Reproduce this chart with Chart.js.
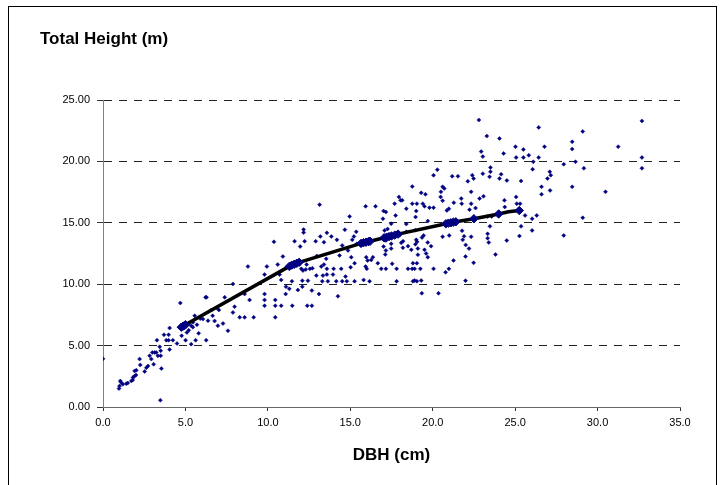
<!DOCTYPE html>
<html>
<head>
<meta charset="utf-8">
<script src="https://cdn.jsdelivr.net/npm/chart.js@4"></script>
<style>
    body { margin: 0; background: #fff; }
    #wrap { width: 723px; height: 485px; }
</style>
</head>
<body>
<div id="wrap"><canvas id="heightChart" width="723" height="485"></canvas></div>
<script>
// Cây đo được: [DBH (cm), chiều cao (m)]
const treesUnder5 = [
    [0.0, 3.92], [0.97, 1.5], [1.05, 2.12], [1.2, 1.85], [1.0, 1.7], [1.1, 2.0], [1.41, 1.9], [1.5, 1.95],
    [1.72, 2.12], [1.82, 2.4], [1.92, 2.94], [2.02, 3.0], [1.8, 2.2], [1.9, 2.5], [2.0, 2.6], [2.22, 3.9],
    [2.26, 3.43], [2.53, 2.89], [2.63, 3.2], [2.73, 3.34], [2.83, 4.17], [2.93, 3.9], [2.99, 4.44], [3.07, 3.48],
    [3.13, 4.44], [3.23, 4.44], [3.27, 5.44], [3.33, 4.17], [3.44, 4.9], [3.5, 4.17], [3.5, 4.58], [3.54, 3.13],
    [3.48, 0.55], [3.7, 5.88], [3.84, 5.44], [3.98, 5.44], [4.04, 6.43], [4.04, 4.68], [3.98, 5.88], [4.24, 5.44],
    [4.49, 5.17], [4.69, 8.47], [4.67, 6.43], [4.77, 5.8]
];
const trees5to10 = [
    [5.01, 5.44], [5.09, 6.07], [5.2, 6.25], [5.35, 6.62], [5.35, 5.12], [5.46, 6.9], [5.62, 5.44], [5.7, 6.7],
    [5.56, 7.43], [6.06, 7.16], [6.22, 8.93], [6.28, 8.93], [6.26, 5.44], [6.37, 7.03], [6.57, 7.9], [6.65, 7.43],
    [6.77, 7.0], [6.91, 8.06], [6.97, 6.62], [7.03, 7.9], [7.28, 6.8], [7.38, 8.93], [7.58, 6.21], [7.88, 10.02],
    [7.88, 7.7], [7.98, 8.17], [8.29, 7.3], [8.59, 7.3], [8.59, 9.2], [8.79, 11.44], [8.89, 8.72], [9.14, 7.3],
    [9.8, 10.78], [9.8, 9.2], [9.8, 8.72], [9.8, 8.25], [9.94, 11.44], [5.45, 6.5], [5.8, 6.0], [5.9, 7.2]
];
const trees10to15 = [
    [10.45, 8.72], [10.45, 8.25], [10.45, 7.3], [10.6, 11.6], [10.37, 13.45], [10.81, 8.25], [10.91, 12.26],
    [10.71, 10.78], [10.81, 10.35], [11.1, 9.8], [11.08, 9.2], [11.3, 9.62], [11.48, 8.25], [11.46, 10.24],
    [11.62, 13.5], [11.82, 9.53], [11.96, 13.07], [12.03, 11.25], [12.09, 10.29], [12.17, 14.45], [12.17, 14.2],
    [12.23, 13.5], [12.13, 11.11], [12.3, 11.2], [12.35, 11.6], [12.09, 9.8], [12.39, 8.25], [12.67, 8.25],
    [12.43, 10.29], [12.67, 9.48], [12.55, 11.25], [12.7, 11.3], [12.9, 13.5], [12.97, 12.3], [12.94, 10.7],
    [13.1, 9.2], [13.14, 16.48], [13.18, 13.89], [13.24, 11.44], [13.3, 10.24], [13.34, 10.7], [13.4, 11.6],
    [13.54, 12.07], [13.58, 14.18], [13.4, 13.42], [13.58, 10.78], [13.64, 10.24], [13.58, 11.25], [13.85, 13.89],
    [13.99, 11.25], [13.95, 10.78], [14.19, 13.61], [14.25, 9.02], [14.15, 10.24], [14.35, 12.34], [14.45, 11.25],
    [14.51, 10.24], [14.51, 13.15], [14.67, 14.44], [14.71, 10.62], [14.79, 10.24], [14.86, 12.75], [14.96, 15.52]
];
const trees15to20 = [
    [15.02, 11.38], [15.06, 12.2], [15.12, 13.61], [15.22, 13.89], [15.26, 10.24], [15.26, 11.71], [15.36, 14.27],
    [15.4, 13.29], [15.81, 10.35], [15.93, 16.34], [15.97, 12.2], [15.93, 11.44], [16.0, 11.25], [16.05, 11.93],
    [16.17, 10.24], [16.27, 11.98], [16.37, 12.2], [16.53, 16.34], [16.67, 11.71], [16.88, 11.25], [16.98, 15.33],
    [17.02, 15.96], [17.16, 15.88], [17.02, 13.07], [17.08, 14.38], [17.16, 13.56], [17.16, 12.75], [17.12, 12.42],
    [17.16, 11.25], [17.26, 14.5], [17.26, 13.9], [17.48, 14.93], [17.48, 13.29], [17.48, 12.9], [17.54, 11.66],
    [17.69, 16.56], [17.75, 15.6], [17.95, 17.11], [18.05, 16.83], [18.15, 16.83], [17.81, 11.25], [17.81, 10.24],
    [18.09, 13.37], [18.19, 12.97], [18.4, 14.27], [18.4, 16.15], [18.5, 11.25], [18.7, 12.8], [18.76, 17.95],
    [18.76, 16.56], [18.8, 10.24], [18.8, 11.71], [18.9, 11.25], [18.96, 15.47], [19.0, 15.96], [19.04, 10.24],
    [19.04, 11.71], [19.04, 16.56], [19.0, 13.61], [19.1, 12.9], [18.4, 14.9], [18.0, 14.0], [18.2, 13.5],
    [18.5, 13.1], [18.95, 14.4], [19.05, 13.45], [19.35, 13.8], [18.95, 13.25], [19.1, 12.4], [18.75, 11.25],
    [19.25, 11.25], [18.9, 10.3], [19.3, 10.3], [19.3, 17.44], [19.56, 17.32], [19.4, 16.56], [19.5, 16.34],
    [19.7, 15.14], [19.7, 12.2], [19.8, 16.23], [19.34, 9.26], [19.45, 13.97], [19.7, 13.4], [19.9, 13.1],
    [19.5, 12.8], [19.6, 12.5]
];
const trees20to25 = [
    [20.05, 16.23], [20.05, 18.87], [20.28, 19.33], [20.05, 11.25], [20.35, 9.26], [20.48, 17.11], [20.5, 17.52],
    [20.6, 17.93], [20.7, 17.8], [20.6, 16.8], [20.6, 13.87], [20.78, 10.97], [20.98, 11.25], [21.0, 13.97],
    [20.86, 16.01], [20.98, 16.15], [21.18, 18.79], [21.53, 18.79], [21.28, 16.64], [21.26, 11.93], [21.73, 16.97],
    [21.76, 16.56], [21.78, 14.36], [21.82, 13.61], [21.99, 12.26], [21.99, 10.29], [22.13, 18.38], [22.23, 16.07],
    [22.33, 16.56], [22.33, 17.52], [22.48, 18.6], [22.48, 11.74], [22.33, 13.87], [22.4, 18.87], [22.6, 16.2],
    [22.8, 23.37], [22.84, 16.97], [22.94, 20.8], [23.04, 20.39], [23.04, 19.0], [23.08, 17.16], [23.28, 22.06],
    [23.45, 18.74], [23.5, 19.5], [23.5, 19.15], [23.47, 14.71], [23.33, 14.1], [23.33, 13.75], [23.33, 15.52],
    [23.58, 15.52], [23.81, 12.42], [24.05, 21.87], [24.05, 18.6], [24.15, 18.95], [24.3, 20.65], [24.35, 16.83],
    [24.37, 16.29], [24.5, 18.45], [24.49, 13.56], [22.0, 13.2], [21.9, 13.9], [22.2, 12.9], [23.4, 13.4]
];
const treesOver25 = [
    [25.02, 21.2], [25.06, 20.32], [25.06, 17.11], [25.1, 16.56], [25.3, 16.56], [25.26, 13.92], [25.36, 18.41],
    [25.36, 14.71], [25.5, 20.97], [25.5, 20.32], [25.6, 15.6], [25.83, 20.5], [26.03, 15.33], [26.03, 14.38],
    [26.31, 15.6], [26.06, 19.36], [26.1, 19.97], [26.43, 22.77], [26.43, 20.32], [26.78, 21.2], [26.6, 17.93],
    [26.6, 17.32], [26.96, 18.6], [27.1, 19.15], [27.16, 18.87], [27.12, 17.64], [27.95, 19.77], [27.95, 13.97],
    [28.46, 21.6], [28.46, 21.0], [28.66, 19.97], [29.1, 22.44], [29.17, 19.44], [28.46, 17.93], [29.1, 15.41],
    [30.48, 17.52], [31.25, 21.2], [32.69, 23.3], [32.69, 20.32], [32.69, 19.44]
];

// Đường ước lượng chiều cao theo DBH
const curveDbh = [4.75, 4.85, 4.95, 5.0, 11.3, 11.45, 11.6, 11.75, 11.9, 15.65, 15.8, 15.95, 16.1, 16.2,
    17.05, 17.2, 17.35, 17.5, 17.7, 17.9, 20.8, 20.95, 21.1, 21.25, 21.4, 22.5, 24.0, 24.6, 25.25];
const curveHeight = [6.5, 6.58, 6.65, 6.7, 11.45, 11.55, 11.62, 11.7, 11.78, 13.32, 13.38, 13.42, 13.47, 13.5,
    13.78, 13.83, 13.88, 13.92, 14.0, 14.08, 14.92, 14.97, 15.0, 15.05, 15.08, 15.33, 15.72, 15.9, 16.0];
const curveMarker = [1, 1, 1, 1, 1, 1, 1, 1, 1, 1, 1, 1, 1, 1, 1, 1, 1, 1, 1, 1, 1, 1, 1, 1, 1, 1, 1, 0, 1];

// Trục
const xMin = 0, xMax = 35, xStep = 5;
const yMin = 0, yMax = 25, yStep = 5;
const yTitle = 'Total Height (m)';
const xTitle = 'DBH (cm)';

const FONT = "'Liberation Sans', Arial, sans-serif";

function toPoints(list) {
    return list.map(p => ({ x: p[0], y: p[1] }));
}

// Khung viền và tiêu đề trục tung nằm ngang
const framePlugin = {
    id: 'frame',
    beforeDraw(chart) {
        const ctx = chart.ctx;
        ctx.save();
        ctx.fillStyle = '#fff';
        ctx.fillRect(0, 0, chart.width, chart.height);
        ctx.strokeStyle = '#000';
        ctx.lineWidth = 1;
        ctx.strokeRect(8.5, 6.5, 708, 500);
        ctx.restore();
    },
    afterDraw(chart) {
        const ctx = chart.ctx;
        ctx.save();
        ctx.fillStyle = '#000';
        ctx.font = 'bold 17px ' + FONT;
        ctx.textBaseline = 'alphabetic';
        ctx.fillText(yTitle, 40, 44);
        ctx.restore();
    }
};

function renderChart() {
    const allTrees = [].concat(treesUnder5, trees5to10, trees10to15, trees15to20, trees20to25, treesOver25);
    const curvePoints = curveDbh.map((d, i) => ({ x: d, y: curveHeight[i] }));

    const ctx = document.getElementById('heightChart').getContext('2d');
    new Chart(ctx, {
        type: 'scatter',
        data: {
            datasets: [{
                label: 'Fitted',
                data: curvePoints,
                showLine: true,
                borderColor: '#000',
                borderWidth: 3.5,
                tension: 0,
                pointStyle: 'rectRot',
                pointRadius: curveMarker.map(m => m ? 4.2 : 0),
                pointBackgroundColor: '#000080',
                pointBorderColor: '#000080',
                pointBorderWidth: 1
            }, {
                label: 'Trees',
                data: toPoints(allTrees),
                showLine: false,
                pointStyle: 'rectRot',
                pointRadius: 2,
                pointBackgroundColor: '#000080',
                pointBorderColor: '#000080',
                pointBorderWidth: 0.5
            }]
        },
        options: {
            responsive: false,
            animation: false,
            devicePixelRatio: 1,
            events: [],
            layout: { padding: { left: 0, right: 43, top: 100, bottom: 0 } },
            plugins: {
                legend: { display: false },
                tooltip: { enabled: false }
            },
            scales: {
                x: {
                    type: 'linear',
                    min: xMin,
                    max: xMax,
                    afterFit: scale => { scale.height = 78; },
                    ticks: {
                        stepSize: xStep,
                        padding: 5,
                        color: '#000',
                        font: { family: FONT, size: 11 },
                        callback: v => v.toFixed(1)
                    },
                    grid: { drawOnChartArea: false, drawTicks: true, tickLength: 4, tickColor: '#333' },
                    border: { color: '#666', width: 1 },
                    title: {
                        display: true,
                        text: xTitle,
                        color: '#000',
                        font: { family: FONT, size: 17, weight: 'bold' },
                        padding: { top: 0, bottom: 19 }
                    }
                },
                y: {
                    type: 'linear',
                    min: yMin,
                    max: yMax,
                    afterFit: scale => { scale.width = 103; },
                    ticks: {
                        stepSize: yStep,
                        padding: 7,
                        color: '#000',
                        font: { family: FONT, size: 11 },
                        callback: v => v.toFixed(2)
                    },
                    grid: { color: '#222', lineWidth: 1, tickLength: 6, tickColor: '#333' },
                    border: { color: '#808080', width: 1, dash: [8, 7] }
                }
            }
        },
        plugins: [framePlugin]
    });
}

document.addEventListener('DOMContentLoaded', renderChart);
</script>
</body>
</html>
